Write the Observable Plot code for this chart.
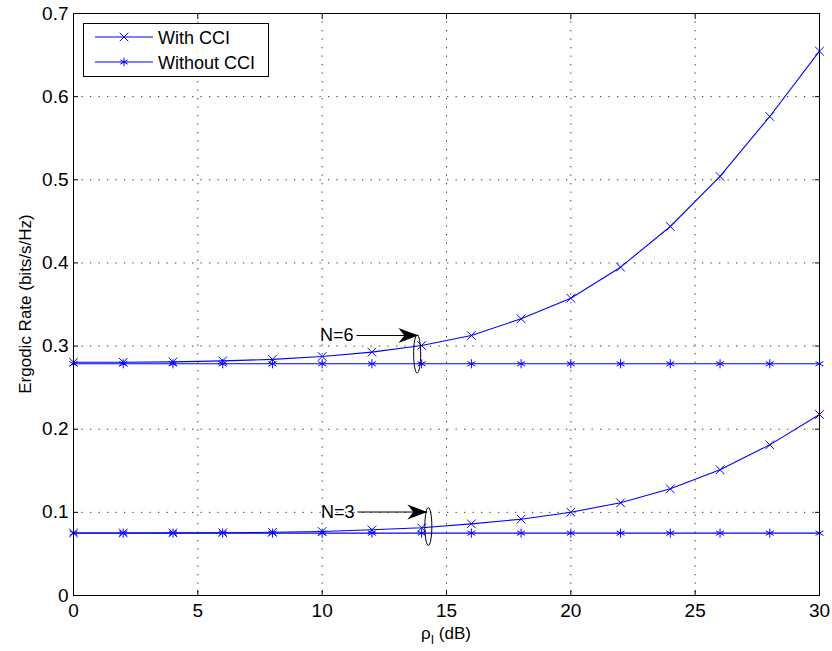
<!DOCTYPE html>
<html>
<head>
<meta charset="utf-8">
<script src="https://cdn.jsdelivr.net/npm/d3@7"></script>
<script src="https://cdn.jsdelivr.net/npm/@observablehq/plot@0.6"></script>
<style>
  html, body { margin: 0; padding: 0; background: #fff; }
  svg { display: block; }
  svg g[aria-label$="tick label"] text { font-size: 19px !important; }
</style>
</head>
<body>
<div id="chart"></div>
<script>
// ---- data ----
const rho = [0, 2, 4, 6, 8, 10, 12, 14, 16, 18, 20, 22, 24, 26, 28, 30];
const withCCI_N6    = [0.2805, 0.2805, 0.2810, 0.2822, 0.2840, 0.2875, 0.2927, 0.3007, 0.3127, 0.3328, 0.3576, 0.3949, 0.4438, 0.5040, 0.5761, 0.6547];
const withoutCCI_N6 = [0.2787, 0.2787, 0.2787, 0.2787, 0.2787, 0.2787, 0.2787, 0.2787, 0.2787, 0.2787, 0.2787, 0.2787, 0.2787, 0.2787, 0.2787, 0.2787];
const withCCI_N3    = [0.0752, 0.0752, 0.0753, 0.0755, 0.0760, 0.0770, 0.0790, 0.0814, 0.0862, 0.0918, 0.1002, 0.1115, 0.1283, 0.1512, 0.1812, 0.2177];
const withoutCCI_N3 = [0.0750, 0.0750, 0.0750, 0.0750, 0.0750, 0.0750, 0.0750, 0.0750, 0.0750, 0.0750, 0.0750, 0.0750, 0.0750, 0.0750, 0.0750, 0.0750];
const seriesNames = ["With CCI", "Without CCI"];
const xTicks = [0, 5, 10, 15, 20, 25, 30];
const yTicks = [0, 0.1, 0.2, 0.3, 0.4, 0.5, 0.6, 0.7];

// annotations (data coordinates)
const annLabels   = ["N=6", "N=3"];
const annTextX    = [11.26, 11.30];
const annTextY    = [0.3127, 0.1004];
const annArrowX1  = [11.38, 11.42];
const annArrowX2  = [13.87, 14.23];
const annEllipseX = [13.82, 14.27];
const annEllipseY = [0.2905, 0.0830];

// ---- build tables ----
const rows = [];
const groups = [
  [withCCI_N6, seriesNames[0], "N6-with"],
  [withoutCCI_N6, seriesNames[1], "N6-without"],
  [withCCI_N3, seriesNames[0], "N3-with"],
  [withoutCCI_N3, seriesNames[1], "N3-without"]
];
for (const [vals, series, group] of groups) {
  rho.forEach((r, i) => rows.push({rho: r, rate: vals[i], series, group}));
}
const ann = annLabels.map((label, i) => ({
  label, tx: annTextX[i], ty: annTextY[i], ax1: annArrowX1[i], ax2: annArrowX2[i],
  ex: annEllipseX[i], ey: annEllipseY[i]
}));

const BLUE = "#0000ff";
const FONT = "'Liberation Sans', Arial, Helvetica, sans-serif";

// custom symbols
const arrowHead = {
  draw(ctx) {
    ctx.moveTo(0, 0);
    ctx.lineTo(-20, -7.5);
    ctx.lineTo(-14, 0);
    ctx.lineTo(-20, 7.5);
    ctx.closePath();
  }
};
const ellipseSym = {
  draw(ctx) {
    const rx = 3.5, ry = 19, k = 0.5523;
    ctx.moveTo(rx, 0);
    ctx.bezierCurveTo(rx, ry * k, rx * k, ry, 0, ry);
    ctx.bezierCurveTo(-rx * k, ry, -rx, ry * k, -rx, 0);
    ctx.bezierCurveTo(-rx, -ry * k, -rx * k, -ry, 0, -ry);
    ctx.bezierCurveTo(rx * k, -ry, rx, -ry * k, rx, 0);
    ctx.closePath();
  }
};

const W = 832, H = 651;
const GRID = {stroke: "#000", strokeOpacity: 0.8, strokeDasharray: "1.3,7.2"};
const plot = Plot.plot({
  width: W,
  height: H,
  marginLeft: 73,
  marginRight: 13,
  marginTop: 13,
  marginBottom: 56,
  style: {fontFamily: FONT, fontSize: "18px", background: "#fff", color: "#000", overflow: "visible"},
  x: {domain: [0, 30], label: null},
  y: {domain: [0, 0.7], label: null},
  marks: [
    Plot.gridX(xTicks.slice(1, -1), GRID),
    Plot.gridY(yTicks.slice(1, -1), GRID),
    Plot.line(rows, {x: "rho", y: "rate", z: "group", stroke: BLUE, strokeWidth: 1.1}),
    Plot.dot(rows.filter(d => d.series === seriesNames[0]), {x: "rho", y: "rate", symbol: "times", r: 4, stroke: BLUE, strokeWidth: 1}),
    Plot.dot(rows.filter(d => d.series === seriesNames[1]), {x: "rho", y: "rate", symbol: "asterisk", r: 4.3, stroke: BLUE, strokeWidth: 1}),
    // annotations
    Plot.link(ann, {x1: "ax1", y1: "ty", x2: "ax2", y2: "ty", stroke: "#000", strokeWidth: 1}),
    Plot.dot(ann, {x: "ax2", y: "ty", symbol: arrowHead, fill: "#000", stroke: "none", r: 5}),
    Plot.dot(ann, {x: "ex", y: "ey", symbol: ellipseSym, fill: "none", stroke: "#000", strokeWidth: 1, r: 5}),
    Plot.text(ann, {x: "tx", y: "ty", text: "label", textAnchor: "end", fontSize: 18, fill: "#000"}),
    Plot.frame({stroke: "#000", strokeWidth: 1}),
    Plot.axisX(xTicks, {anchor: "bottom", tickSize: -5, tickPadding: 13, tickFormat: d => String(d), fontSize: 19}),
    Plot.axisX(xTicks, {anchor: "top", tickSize: -5, tickFormat: () => ""}),
    Plot.axisY(yTicks, {anchor: "left", tickSize: -5, tickPadding: 10, tickFormat: d => String(+d.toFixed(1)), fontSize: 19}),
    Plot.axisY(yTicks, {anchor: "right", tickSize: -5, tickFormat: () => ""})
  ]
});

const svg = d3.select(plot);

// axis labels
svg.append("text")
  .attr("transform", "translate(31,304) rotate(-90)")
  .attr("text-anchor", "middle")
  .attr("font-family", FONT)
  .attr("font-size", 17)
  .attr("fill", "#000")
  .text("Ergodic Rate (bits/s/Hz)");

const xl = svg.append("text")
  .attr("x", 446)
  .attr("y", 639)
  .attr("text-anchor", "middle")
  .attr("font-family", FONT)
  .attr("font-size", 17)
  .attr("fill", "#000");
xl.append("tspan").text("ρ");
xl.append("tspan").attr("dy", 5).attr("font-size", 12).text("I");
xl.append("tspan").attr("dy", -5).text(" (dB)");

// legend
const lg = svg.append("g");
lg.append("rect").attr("x", 83.5).attr("y", 23.5).attr("width", 185).attr("height", 53)
  .attr("fill", "#fff").attr("stroke", "#000").attr("stroke-width", 1);
const legendSymbols = [d3.symbolTimes, d3.symbolAsterisk];
seriesNames.forEach((name, i) => {
  const y = 37 + i * 25;
  lg.append("line").attr("x1", 95).attr("x2", 153).attr("y1", y).attr("y2", y)
    .attr("stroke", BLUE).attr("stroke-width", 1);
  lg.append("path").attr("transform", `translate(124,${y})`)
    .attr("d", d3.symbol(legendSymbols[i], 4 * 4 * Math.PI)())
    .attr("fill", "none").attr("stroke", BLUE).attr("stroke-width", 1);
  lg.append("text").attr("x", 158).attr("y", y + 6.5)
    .attr("text-anchor", "start")
    .attr("font-family", FONT).attr("font-size", 18).attr("fill", "#000").text(name);
});

document.getElementById("chart").appendChild(plot);
</script>
</body>
</html>
